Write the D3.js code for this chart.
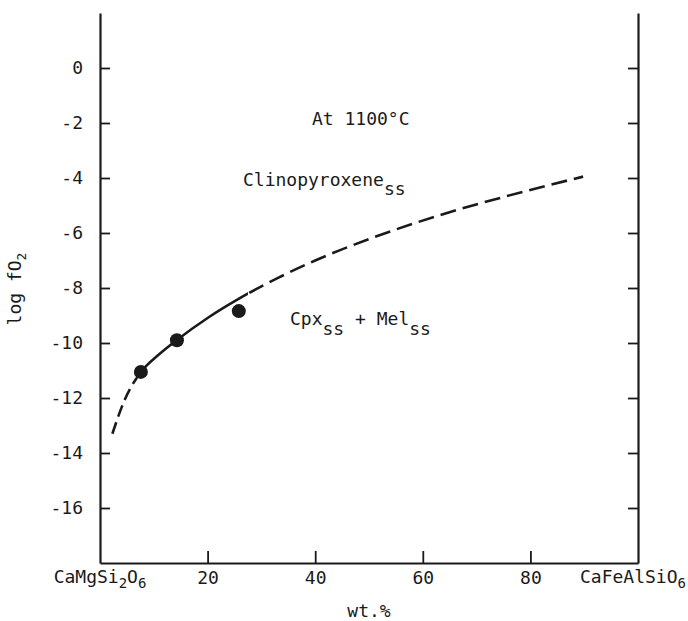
<!DOCTYPE html>
<html>
<head>
<meta charset="utf-8">
<script src="https://cdn.jsdelivr.net/npm/d3@7"></script>
<style>
  html, body { margin: 0; padding: 0; background: #fff; }
  svg { display: block; }
  text { font-family: "DejaVu Sans Mono", monospace; fill: #1a1a1a; }
</style>
</head>
<body>
<svg id="chart" width="688" height="621"></svg>
<script>
// ---- Data ----
const yTickValues = [0, -2, -4, -6, -8, -10, -12, -14, -16];
const xTickValues = [20, 40, 60, 80];

// measured points (wt.% CaFeAlSiO6, log fO2)
const pointX = [7.6, 14.3, 25.8];
const pointY = [-11.05, -9.9, -8.84];

// phase boundary Cpx_ss / Cpx_ss + Mel_ss
const curveX = [2.3, 4.6, 7.6, 11.0, 14.3, 20.0, 26.0, 33.0, 40.0, 50.0, 63.2, 75.0, 89.8];
const curveY = [-13.3, -12.06, -11.06, -10.41, -9.89, -9.09, -8.37, -7.64, -7.0, -6.22, -5.35, -4.69, -3.95];
// the boundary is drawn solid between these compositions, dashed outside
const solidFrom = 7.0;
const solidTo = 27.5;

// ---- Drawing ----
const svg = d3.select("#chart");
const x = d3.scaleLinear().domain([0, 100]).range([100, 638]);
const y = d3.scaleLinear().domain([-18, 2]).range([563, 13]);
const ink = "#1a1a1a";

// left axis
const gl = svg.append("g").attr("transform", `translate(${x(0)},0)`)
  .call(d3.axisLeft(y).tickValues(yTickValues).tickSize(-10).tickSizeOuter(0)
        .tickPadding(17).tickFormat(d => String(d)));
// right axis
const gr = svg.append("g").attr("transform", `translate(${x(100)},0)`)
  .call(d3.axisRight(y).tickValues(yTickValues).tickSize(-10).tickSizeOuter(0)
        .tickFormat(() => ""));
// bottom axis
const gb = svg.append("g").attr("transform", `translate(0,${y(-18)})`)
  .call(d3.axisBottom(x).tickValues(xTickValues).tickSize(-12).tickSizeOuter(0)
        .tickPadding(8).tickFormat(d => String(d)));

[gl, gr, gb].forEach(g => {
  g.select(".domain").attr("stroke", ink).attr("stroke-width", 2.2);
  g.selectAll(".tick line").attr("stroke", ink).attr("stroke-width", 1.8);
  g.selectAll(".tick text").attr("font-size", 18).attr("fill", ink)
    .attr("font-family", "DejaVu Sans Mono, monospace");
});

// clip regions for solid / dashed parts of the boundary
const defs = svg.append("defs");
defs.append("clipPath").attr("id", "clipLow").append("rect")
  .attr("x", 0).attr("y", 0).attr("width", x(solidFrom)).attr("height", 621);
defs.append("clipPath").attr("id", "clipSolid").append("rect")
  .attr("x", x(solidFrom)).attr("y", 0).attr("width", x(solidTo) - x(solidFrom)).attr("height", 621);
defs.append("clipPath").attr("id", "clipHigh").append("rect")
  .attr("x", x(solidTo)).attr("y", 0).attr("width", 688 - x(solidTo)).attr("height", 621);

const line = d3.line().x(d => x(d[0])).y(d => y(d[1])).curve(d3.curveMonotoneX);
const curveData = d3.zip(curveX, curveY);
svg.append("path").datum(curveData).attr("d", line).attr("clip-path", "url(#clipLow)")
  .attr("fill", "none").attr("stroke", ink).attr("stroke-width", 2.6)
  .attr("stroke-dasharray", "12,6");
svg.append("path").datum(curveData).attr("d", line).attr("clip-path", "url(#clipSolid)")
  .attr("fill", "none").attr("stroke", ink).attr("stroke-width", 2.6);
svg.append("path").datum(curveData).attr("d", line).attr("clip-path", "url(#clipHigh)")
  .attr("fill", "none").attr("stroke", ink).attr("stroke-width", 2.6)
  .attr("stroke-dasharray", "16,7").attr("stroke-dashoffset", 4);

// points
svg.selectAll("circle.pt").data(d3.zip(pointX, pointY)).join("circle")
  .attr("class", "pt").attr("cx", d => x(d[0])).attr("cy", d => y(d[1]))
  .attr("r", 7).attr("fill", ink);

// end-member labels
function chem(xp, yp, anchor, parts) {
  const t = svg.append("text").attr("x", xp).attr("y", yp)
    .attr("text-anchor", anchor).attr("font-size", 18);
  parts.forEach(p => {
    if (p[1]) {
      t.append("tspan").attr("font-size", 14).attr("dy", 5).text(p[0]);
    } else {
      t.append("tspan").attr("dy", p[2] || 0).text(p[0]);
    }
  });
  return t;
}
chem(x(0), 583, "middle", [["CaMgSi"], ["2", true], ["O", false, -5], ["6", true]]);
chem(686, 583, "end", [["CaFeAlSiO"], ["6", true]]);

// axis titles
svg.append("text").attr("x", x(50)).attr("y", 617).attr("text-anchor", "middle")
  .attr("font-size", 18).text("wt.%");
const yl = svg.append("text").attr("transform", "translate(21,289) rotate(-90)")
  .attr("text-anchor", "middle").attr("font-size", 18);
yl.append("tspan").text("log fO");
yl.append("tspan").attr("font-size", 13).attr("dy", 5).text("2");

// annotations
svg.append("text").attr("x", 312).attr("y", 125).attr("font-size", 18).text("At 1100°C");
const cl = svg.append("text").attr("x", 243).attr("y", 186).attr("font-size", 18);
cl.append("tspan").text("Clinopyroxene");
cl.append("tspan").attr("dy", 9).text("ss");
const cm = svg.append("text").attr("x", 290).attr("y", 325).attr("font-size", 18);
cm.append("tspan").text("Cpx");
cm.append("tspan").attr("dy", 10).text("ss");
cm.append("tspan").attr("dy", -10).text(" + Mel");
cm.append("tspan").attr("dy", 10).text("ss");
</script>
</body>
</html>
